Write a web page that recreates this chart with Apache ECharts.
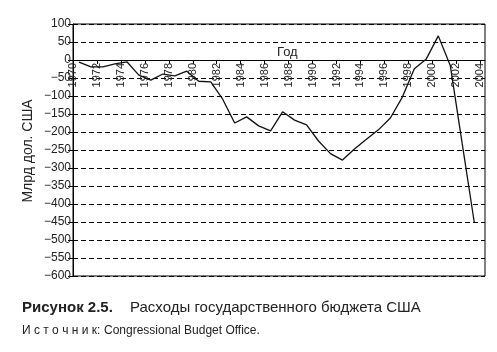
<!DOCTYPE html>
<html>
<head>
<meta charset="utf-8">
<script src="https://cdn.jsdelivr.net/npm/echarts@6/dist/echarts.min.js"></script>
<style>
  html, body { margin: 0; padding: 0; background: #fff; }
  #chart { width: 497px; height: 352px; }
</style>
</head>
<body>
<div id="chart"></div>
<script>
// годы (точки ставятся в середину года)
const years = [
  1970, 1971, 1972, 1973, 1974, 1975, 1976, 1977, 1978, 1979,
  1980, 1981, 1982, 1983, 1984, 1985, 1986, 1987, 1988, 1989,
  1990, 1991, 1992, 1993, 1994, 1995, 1996, 1997, 1998, 1999,
  2000, 2001, 2002, 2003
]
// млрд долл.
const balance = [
  -6, -19, -19, -11, -5, -42, -56, -39, -44, -31,
  -59, -61, -109, -175, -158, -183, -197, -144, -167, -180,
  -225, -260, -278, -247, -220, -194, -161, -103, -24, 3,
  67, -15, -233, -450
]
const yTicks = { min: -600, max: 100, step: 50 }
const xTicks = { min: 1970, max: 2004.4, step: 2 }

const font = 'Liberation Sans, Arial, sans-serif'
const gridTop = 24
const gridBottom = 76
const plotH = 352 - gridTop - gridBottom
// сдвиг оси лет к нулевой линии
const zeroOffset = -plotH * (0 - yTicks.min) / (yTicks.max - yTicks.min)

const myChart = echarts.init(document.getElementById('chart'))

const option = {
  animation: false,
  backgroundColor: '#fff',
  grid: {
    left: 73,
    right: 12,
    top: gridTop,
    bottom: gridBottom,
    show: true,
    borderColor: '#000',
    borderWidth: 1
  },
  xAxis: {
    type: 'value',
    position: 'bottom',
    offset: zeroOffset,
    min: xTicks.min,
    max: xTicks.max,
    interval: xTicks.step,
    axisLine: { onZero: false, lineStyle: { color: '#000', width: 1 } },
    axisTick: { show: true, length: 4, lineStyle: { color: '#000' } },
    axisLabel: {
      rotate: 90,
      margin: 3,
      fontSize: 11,
      fontFamily: font,
      color: '#222',
      showMaxLabel: false,
      formatter: v => String(v)
    },
    splitLine: { show: false }
  },
  yAxis: {
    type: 'value',
    min: yTicks.min,
    max: yTicks.max,
    interval: yTicks.step,
    axisLine: { show: true, lineStyle: { color: '#000', width: 1 } },
    axisTick: { show: true, length: 5, lineStyle: { color: '#000' } },
    axisLabel: {
      margin: 2,
      fontSize: 12,
      fontFamily: font,
      color: '#222',
      formatter: v => String(v).replace('-', '\u2212')
    },
    splitLine: {
      lineStyle: { color: '#000', type: [5, 3], width: 1 }
    }
  },
  graphic: [
    {
      type: 'text', left: 277, top: 46,
      style: { text: 'Год', fontSize: 13, fontFamily: font, fill: '#222' }
    },
    {
      type: 'text', x: 28, y: 151, rotation: Math.PI / 2,
      style: {
        text: 'Млрд дол. США', fontSize: 14, fontFamily: font, fill: '#222',
        align: 'center', verticalAlign: 'middle'
      }
    },
    {
      type: 'text', x: 22, y: 308,
      style: {
        text: 'Рисунок 2.5.', fontSize: 15, fontWeight: 'bold', fontFamily: font,
        fill: '#222', verticalAlign: 'middle'
      }
    },
    {
      type: 'text', x: 130, y: 308,
      style: {
        text: 'Расходы государственного бюджета США', fontSize: 15, fontFamily: font,
        fill: '#222', verticalAlign: 'middle'
      }
    },
    {
      type: 'text', x: 22, y: 331,
      style: {
        text: 'И с т о ч н и к:', fontSize: 12, fontFamily: font,
        fill: '#222', verticalAlign: 'middle'
      }
    },
    {
      type: 'text', x: 104, y: 331,
      style: {
        text: 'Congressional Budget Office.', fontSize: 12, fontFamily: font,
        fill: '#222', verticalAlign: 'middle'
      }
    }
  ],
  series: [
    {
      type: 'line',
      showSymbol: false,
      lineStyle: { color: '#111', width: 1.3 },
      data: years.map((y, i) => [y + 0.5, balance[i]])
    }
  ]
}
myChart.setOption(option)
</script>
</body>
</html>
